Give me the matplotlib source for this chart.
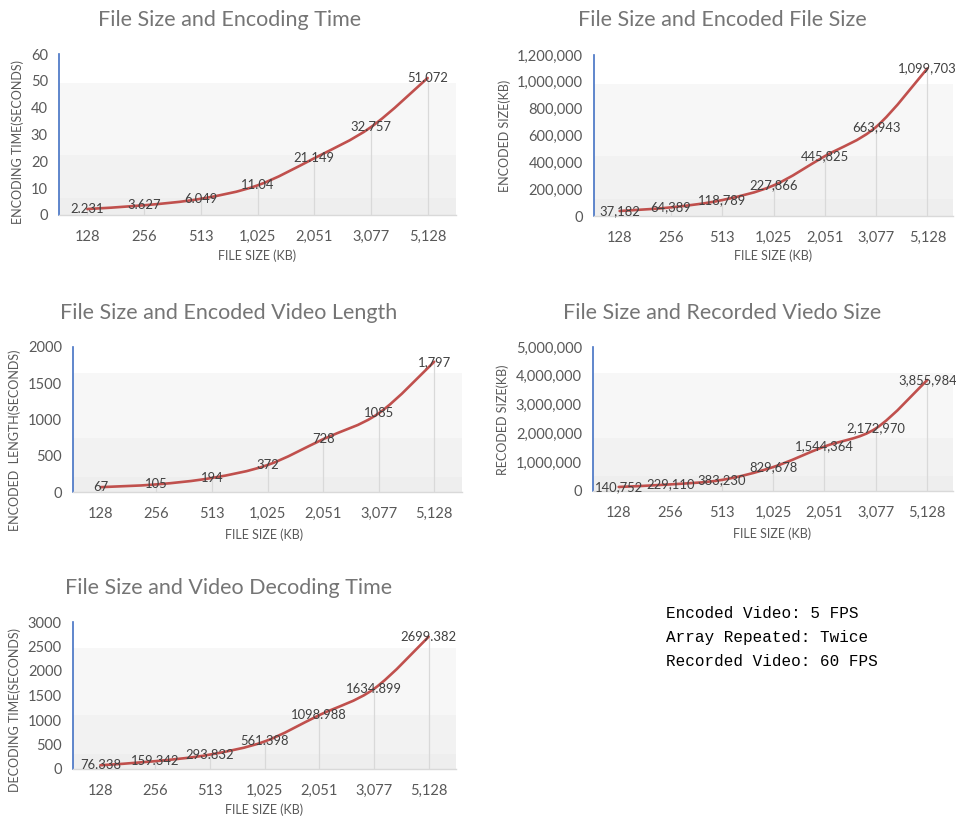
import matplotlib
matplotlib.use("Agg")
import matplotlib.pyplot as plt
from matplotlib.path import Path
from matplotlib.patches import PathPatch, Rectangle
from matplotlib.ticker import FuncFormatter

# data
file_sizes = ["128", "256", "513", "1,025", "2,051", "3,077", "5,128"]

encoding_time = [2.231, 3.627, 6.049, 11.04, 21.149, 32.757, 51.072]
encoding_labels = ["2.231", "3.627", "6.049", "11.04", "21.149", "32.757", "51.072"]

encoded_size = [37182, 64389, 118789, 227866, 445825, 663943, 1099703]
encoded_size_labels = ["37,182", "64,389", "118,789", "227,866", "445,825", "663,943", "1,099,703"]

encoded_length = [67, 105, 194, 372, 728, 1085, 1797]
encoded_length_labels = ["67", "105", "194", "372", "728", "1085", "1,797"]

recorded_size = [140752, 229110, 383230, 829678, 1544364, 2172970, 3855984]
recorded_size_labels = ["140,752", "229,110", "383,230", "829,678", "1,544,364", "2,172,970", "3,855,984"]

decoding_time = [76.338, 159.342, 293.832, 561.398, 1098.988, 1634.899, 2699.382]
decoding_labels = ["76.338", "159.342", "293.832", "561.398", "1098.988", "1634.899", "2699.382"]

notes = ["Encoded Video: 5 FPS", "Array Repeated: Twice", "Recorded Video: 60 FPS"]

FONT = "Lato"
TITLE_C = "#757575"
TEXT_C = "#595959"
LABEL_C = "#404040"
LINE_C = "#C0504D"

W, H = 956, 816

fig = plt.figure(figsize=(W / 100, H / 100), dpi=100)
fig.patch.set_facecolor("white")


def px_axes(x0, x1, ytop, yzero):
    return fig.add_axes([x0 / W, 1 - yzero / H, (x1 - x0) / W, (yzero - ytop) / H])


def smooth_path(xs, ys):
    # Excel-style smoothed line as cubic Bezier segments through the points
    pts = list(zip(xs, ys))
    verts = [pts[0]]
    codes = [Path.MOVETO]
    n = len(pts)
    for i in range(n - 1):
        p0 = pts[i - 1] if i > 0 else pts[i]
        p1 = pts[i]
        p2 = pts[i + 1]
        p3 = pts[i + 2] if i + 2 < n else pts[i + 1]
        c1 = (p1[0] + (p2[0] - p0[0]) / 6, p1[1] + (p2[1] - p0[1]) / 6)
        c2 = (p2[0] - (p3[0] - p1[0]) / 6, p2[1] - (p3[1] - p1[1]) / 6)
        verts += [c1, c2, p2]
        codes += [Path.CURVE4] * 3
    return Path(verts, codes)


def draw_chart(box, values, labels, ymax, ystep, ylabel, title, title_xy, xlab_xy, ylab_xy, commas):
    ax = px_axes(*box)
    xs = list(range(len(values)))
    ax.set_xlim(-0.5, len(values) - 0.5)
    ax.set_ylim(0, ymax)

    # stepped background bands
    for lo, hi, c in [(0, 0.105, "#EEEEEE"), (0.105, 0.37, "#F2F2F2"), (0.37, 0.82, "#F7F7F7")]:
        ax.add_patch(Rectangle((0, lo), 1, hi - lo, transform=ax.transAxes,
                               facecolor=c, edgecolor="none", zorder=0))

    ax.vlines(xs, 0, values, color="#D9D9D9", lw=0.9, zorder=1)
    ax.add_patch(PathPatch(smooth_path(xs, values), fill=False, edgecolor=LINE_C,
                           lw=1.9, transform=ax.transData, zorder=3, capstyle="round"))

    for x, y, t in zip(xs, values, labels):
        ax.text(x, y, t, ha="center", va="center", fontsize=9.4, color=LABEL_C,
                family=FONT, zorder=4)

    ax.set_xticks(xs)
    ax.set_xticklabels(file_sizes)
    ax.set_yticks([ystep * k for k in range(int(round(ymax / ystep)) + 1)])
    if commas:
        ax.yaxis.set_major_formatter(FuncFormatter(lambda v, p: f"{int(v):,}"))
    else:
        ax.yaxis.set_major_formatter(FuncFormatter(lambda v, p: f"{int(v)}"))
    ax.tick_params(axis="both", length=0, labelsize=10.5, labelcolor=TEXT_C)
    ax.tick_params(axis="x", pad=11)
    ax.tick_params(axis="y", pad=8)
    for lab in ax.get_xticklabels() + ax.get_yticklabels():
        lab.set_family(FONT)

    for s in ["top", "right"]:
        ax.spines[s].set_visible(False)
    ax.spines["left"].set_color("#4472C4")
    ax.spines["left"].set_linewidth(1.2)
    ax.spines["bottom"].set_color("#D9D9D9")
    ax.spines["bottom"].set_linewidth(1.0)
    ax.set_facecolor("white")

    fig.text(title_xy[0] / W, 1 - title_xy[1] / H, title, ha="center", va="center",
             fontsize=15.5, color=TITLE_C, family=FONT)
    fig.text(xlab_xy[0] / W, 1 - xlab_xy[1] / H, "FILE SIZE (KB)", ha="center", va="center",
             fontsize=9, color=TEXT_C, family=FONT)
    fig.text(ylab_xy[0] / W, 1 - ylab_xy[1] / H, ylabel, ha="center", va="center",
             rotation=90, fontsize=9, color=TEXT_C, family=FONT)
    return ax


draw_chart((59, 456, 54, 215), encoding_time, encoding_labels, 60, 10,
           "ENCODING TIME(SECONDS)", "File Size and Encoding Time",
           (230, 20), (257, 256), (18, 142), False)

draw_chart((594, 953, 55, 216), encoded_size, encoded_size_labels, 1200000, 200000,
           "ENCODED SIZE(KB)", "File Size and Encoded File Size",
           (722, 20), (773, 256), (505, 136), True)

draw_chart((73, 462, 347, 492), encoded_length, encoded_length_labels, 2000, 500,
           "ENCODED  LENGTH(SECONDS)", "File Size and Encoded Video Length",
           (229, 313), (264, 535), (15, 440), False)

draw_chart((593, 953, 347, 491), recorded_size, recorded_size_labels, 5000000, 1000000,
           "RECODED SIZE(KB)", "File Size and Recorded Viedo Size",
           (722, 313), (772, 534), (503, 420), True)

draw_chart((73, 456, 622, 769), decoding_time, decoding_labels, 3000, 500,
           "DECODING TIME(SECONDS)", "File Size and Video Decoding Time",
           (229, 588), (264, 810), (15, 710), False)

for i, line in enumerate(notes):
    fig.text(666 / W, 1 - (614 + 23.5 * i) / H, line, ha="left", va="center",
             fontsize=11.5, color="black", family="Liberation Mono")

fig.savefig("out.png", dpi=100)
